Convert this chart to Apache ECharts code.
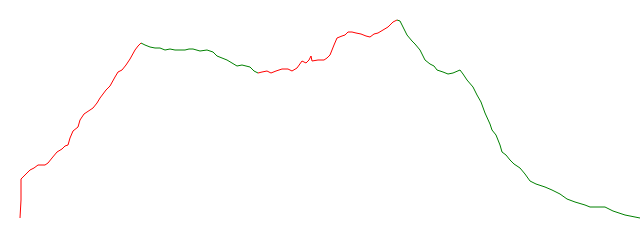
<!DOCTYPE html>
<html><head><meta charset="utf-8">
<script src="https://cdn.jsdelivr.net/npm/echarts@6/dist/echarts.min.js"></script>
<style>html,body{margin:0;padding:0;background:#fff}#c{width:640px;height:240px}</style>
</head><body><div id="c"></div>
<script>
const distance = [0,1,1,2,5,10,14,18,22,25,28,32,37,42,45,48,50,53,58,60,64,70,73,77,80,86,90,95,98,102,106,110,115,118,121,
125,130,135,140,145,150,155,160,165,169,173,180,187,193,197,202,207,212,217,222,226,230,234,238,
242,247,251,256,262,268,272,277,282,286,289,291,292,294,298,304,307,310,314,317,322,325,328,332,336,341,346,350,354,358,363,368,373,377,
380,383,387,392,395,400,405,410,414,417,423,428,433,440,443,447,453,457,461,465,470,472,476,480,482,486,490,494,500,505,510,516,525,532,540,547,555,565,570,585,593,605,615,620];
const elevation = [22,40,61,62,65,70,72,75,75,75,77,82,88,91,94,95,102,109,113,120,126,130,132,137,142,150,154,163,168,170,175,181,190,194,197,
195,193,192,192,190,191,190,190,190,191,191,189,190,188,184,182,180,177,174,175,174,173,169,167,
168,169,167,169,171,171,169,172,179,177,180,184,179,178,180,180,182,185,195,202,204,205,208,208,207,206,204,203,206,207,210,213,218,220,
219,213,205,199,196,190,180,176,174,170,168,166,167,170,166,160,153,145,138,127,116,110,105,95,88,85,80,76,72,66,59,56,53,50,46,41,38,35,33,33,29,25,23,22];
const segmentBreaks = [121, 238, 377];
const climbColor = '#ff0000';
const descentColor = '#008000';

const data = distance.map((d, i) => [d, elevation[i]]);
const chart = echarts.init(document.getElementById('c'));
chart.setOption({
  animation: false,
  grid: {left: 20, right: 0, top: 0, bottom: 0},
  xAxis: {type: 'value', min: 0, max: 620, show: false},
  yAxis: {type: 'value', min: 0, max: 240, show: false},
  visualMap: {
    show: false, type: 'piecewise', dimension: 0, seriesIndex: 0,
    pieces: [
      {lt: segmentBreaks[0], color: climbColor},
      {gte: segmentBreaks[0], lt: segmentBreaks[1], color: descentColor},
      {gte: segmentBreaks[1], lt: segmentBreaks[2], color: climbColor},
      {gte: segmentBreaks[2], color: descentColor}
    ]
  },
  series: [{type: 'line', data: data, showSymbol: false, symbol: 'none', lineStyle: {width: 1}}]
});
</script></body></html>
